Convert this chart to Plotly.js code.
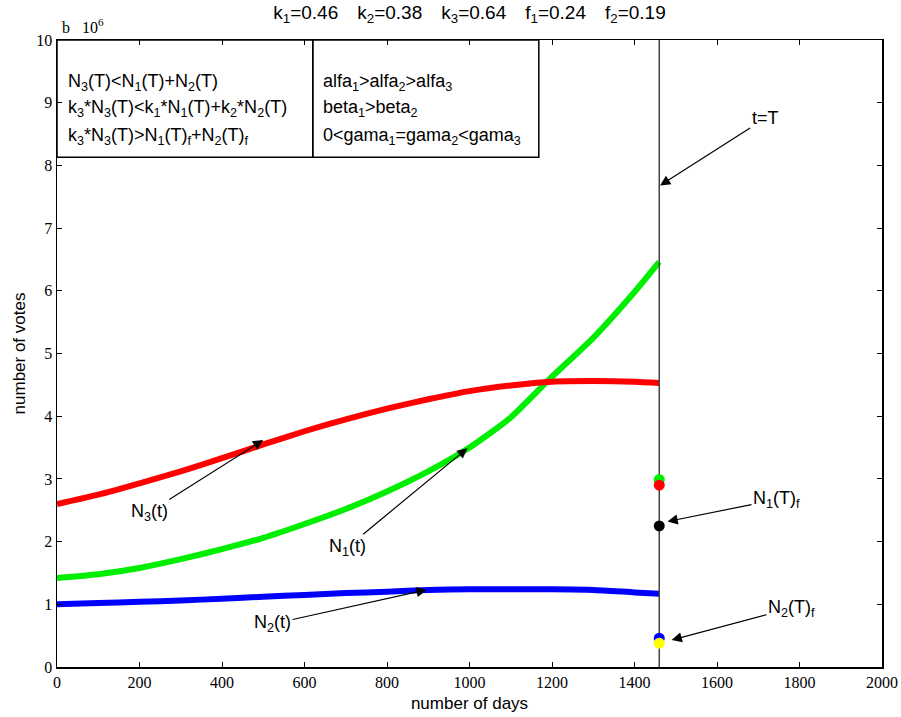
<!DOCTYPE html>
<html>
<head>
<meta charset="utf-8">
<script src="https://cdn.plot.ly/plotly-3.0.1.min.js"></script>
<style>html,body{margin:0;padding:0;background:#fff;}#chart{width:901px;height:717px;}</style>
</head>
<body>
<div id="chart"></div>
<script>
// ---- data ----
const days = [0, 100, 200, 300, 400, 500, 600, 700, 800, 900, 1000, 1100, 1200, 1300, 1400, 1460];
const N1 = [1.42, 1.48, 1.58, 1.72, 1.88, 2.06, 2.28, 2.52, 2.80, 3.12, 3.50, 3.98, 4.63, 5.25, 5.98, 6.46];
const N2 = [1.00, 1.02, 1.04, 1.06, 1.09, 1.12, 1.15, 1.18, 1.20, 1.23, 1.24, 1.24, 1.24, 1.23, 1.19, 1.17];
const N3 = [2.60, 2.75, 2.93, 3.12, 3.33, 3.55, 3.76, 3.95, 4.12, 4.27, 4.40, 4.49, 4.55, 4.56, 4.55, 4.53];
const T = 1460;
const finalLabels = ['N1 green', 'N3 red', 'N1f black', 'N2 blue', 'N2f yellow'];
const finalValues = [2.99, 2.90, 2.25, 0.46, 0.38];
const finalColors = ['#00ee00', '#ff0000', '#000000', '#0000ff', '#ffff00'];
const xTicks = [0, 200, 400, 600, 800, 1000, 1200, 1400, 1600, 1800, 2000];
const yTicks = [0, 1, 2, 3, 4, 5, 6, 7, 8, 9, 10];

const sans = 'Liberation Sans, Arial, sans-serif';
const serif = 'Liberation Serif, Times New Roman, serif';

const traces = [
  {x: days, y: N1, mode: 'lines', line: {color: '#00ee00', width: 6, shape: 'spline', smoothing: 0.6}, name: 'N1'},
  {x: days, y: N2, mode: 'lines', line: {color: '#0000ff', width: 6, shape: 'spline', smoothing: 0.6}, name: 'N2'},
  {x: days, y: N3, mode: 'lines', line: {color: '#ff0000', width: 6, shape: 'spline', smoothing: 0.6}, name: 'N3'},
  {x: [T, T], y: [yTicks[0], yTicks[yTicks.length-1]], mode: 'lines', line: {color: '#444', width: 1.5}, name: 't=T'},
  {x: finalValues.map(() => T), y: finalValues, text: finalLabels, mode: 'markers',
   marker: {color: finalColors, size: 11, line: {width: 0}}, name: 'final'}
];

function ann(text, x, y, ax, ay) {
  return {text: text, x: x, y: y, xref: 'x', yref: 'y', ax: ax, ay: ay, showarrow: true,
          arrowhead: 2, arrowsize: 1.7, arrowwidth: 1.2, arrowcolor: '#000', standoff: 0,
          font: {family: sans, size: 18, color: '#000'}};
}
function txt(text, x, y) {
  return {text: text, x: x, y: y, xref: 'x', yref: 'y', showarrow: false, xanchor: 'left', yanchor: 'middle',
          font: {family: sans, size: 18, color: '#000'}};
}

const annotations = [
  ann('N<sub>3</sub>(t)', 500, 3.62, -114, 72),
  ann('N<sub>1</sub>(t)', 995, 3.49, -120, 99),
  ann('N<sub>2</sub>(t)', 896, 1.23, -154, 34),
  ann('N<sub>1</sub>(T)<sub>f</sub>', 1480, 2.32, 109, -22),
  ann('N<sub>2</sub>(T)<sub>f</sub>', 1490, 0.43, 120, -32),
  ann('t=T', 1462, 7.68, 105, -67),
  txt('N<sub>3</sub>(T)&lt;N<sub>1</sub>(T)+N<sub>2</sub>(T)', 22, 9.33),
  txt('k<sub>3</sub>*N<sub>3</sub>(T)&lt;k<sub>1</sub>*N<sub>1</sub>(T)+k<sub>2</sub>*N<sub>2</sub>(T)', 22, 8.9),
  txt('k<sub>3</sub>*N<sub>3</sub>(T)&gt;N<sub>1</sub>(T)<sub>f</sub>+N<sub>2</sub>(T)<sub>f</sub>', 22, 8.46),
  txt('alfa<sub>1</sub>&gt;alfa<sub>2</sub>&gt;alfa<sub>3</sub>', 640, 9.33),
  txt('beta<sub>1</sub>&gt;beta<sub>2</sub>', 640, 8.9),
  txt('0&lt;gama<sub>1</sub>=gama<sub>2</sub>&lt;gama<sub>3</sub>', 640, 8.46),
  {text: 'b\u2002 10<sup>6</sup>', xref: 'paper', yref: 'paper', x: 0.004, y: 1.003, xanchor: 'left', yanchor: 'bottom',
   showarrow: false, font: {family: serif, size: 16, color: '#000'}}
];

const shapes = [
  {type: 'rect', xref: 'x', yref: 'y', x0: 0, x1: 620, y0: 8.13, y1: 10, line: {color: '#000', width: 1.5}},
  {type: 'rect', xref: 'x', yref: 'y', x0: 620, x1: 1168, y0: 8.13, y1: 10, line: {color: '#000', width: 1.5}}
];

const sp = '\u2002\u2002';
const layout = {
  width: 901, height: 717,
  margin: {l: 57, r: 19, t: 40, b: 50},
  paper_bgcolor: '#fff', plot_bgcolor: '#fff',
  showlegend: false,
  title: {text: 'k<sub>1</sub>=0.46' + sp + 'k<sub>2</sub>=0.38' + sp + 'k<sub>3</sub>=0.64' + sp + 'f<sub>1</sub>=0.24' + sp + 'f<sub>2</sub>=0.19',
          x: 0.5, xref: 'paper', y: 0.992, yref: 'container', yanchor: 'top',
          font: {family: sans, size: 19, color: '#000'}},
  xaxis: {range: [0, 2000], tickvals: xTicks, ticktext: xTicks.map(String), ticks: 'inside', ticklen: 5,
          tickcolor: '#000', showline: true, linecolor: '#000', linewidth: 1.5, mirror: 'ticks',
          showgrid: false, zeroline: false, tickfont: {family: serif, size: 16, color: '#000'},
          title: {text: 'number of days', font: {family: sans, size: 17, color: '#000'}, standoff: 7}},
  yaxis: {range: [0, 10], tickvals: yTicks, ticktext: yTicks.map(String), ticks: 'inside', ticklen: 5,
          tickcolor: '#000', showline: true, linecolor: '#000', linewidth: 1.5, mirror: 'ticks',
          showgrid: false, zeroline: false, tickfont: {family: serif, size: 16, color: '#000'},
          title: {text: 'number of votes', font: {family: sans, size: 17, color: '#000'}, standoff: 6}},
  annotations: annotations,
  shapes: shapes
};

Plotly.newPlot('chart', traces, layout, {displayModeBar: false, staticPlot: true});
</script>
</body>
</html>
